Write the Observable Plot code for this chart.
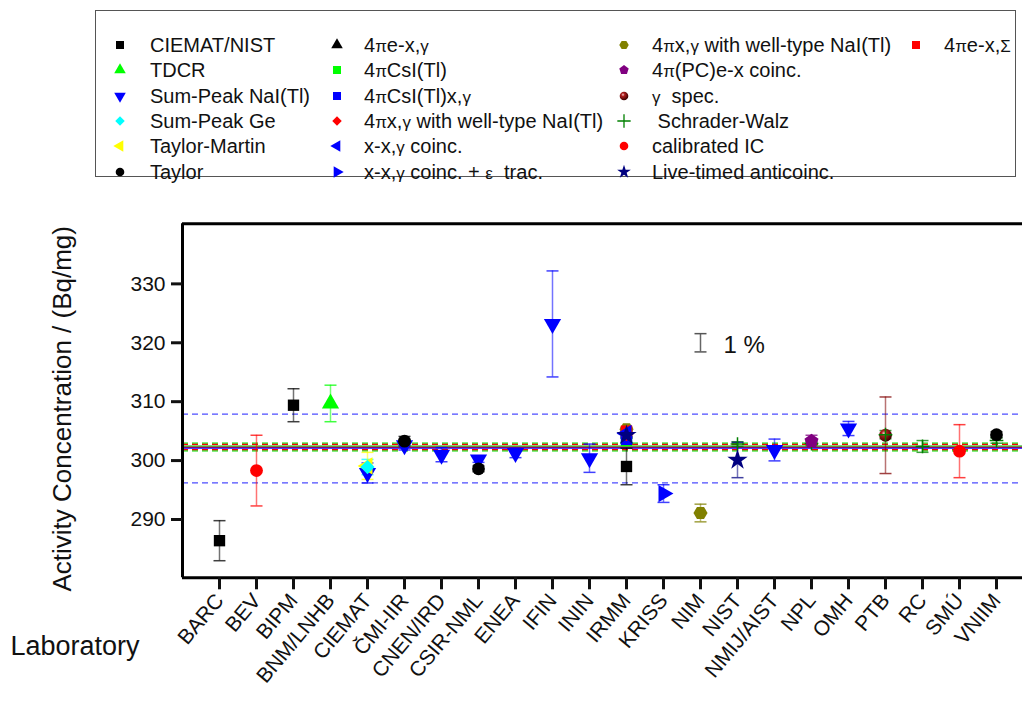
<!DOCTYPE html>
<html><head><meta charset="utf-8">
<script src="https://cdn.jsdelivr.net/npm/d3@7"></script>
<script src="https://cdn.jsdelivr.net/npm/@observablehq/plot@0.6"></script>
<style>
body{margin:0;background:#fff;font-family:"Liberation Sans",Arial,sans-serif;}
#wrap{width:1022px;height:702px;overflow:hidden;position:relative;}
#legend{position:relative;width:1022px;height:190px;}
#box{position:absolute;left:95px;top:10px;width:921px;height:167px;border:1.5px solid #555;box-sizing:border-box;}
.item{position:absolute;font-size:20px;color:#111;white-space:pre;line-height:24px;}
.g{font-size:0.85em;}
.mk{position:absolute;overflow:visible;}
#chart svg{display:block;}
</style></head><body>
<div id="wrap"><div id="legend"><div id="box"></div></div><div id="chart"></div></div>
<script>
// ---------- data ----------
const labs = ["BARC","BEV","BIPM","BNM/LNHB","CIEMAT","ČMI-IIR","CNEN/IRD","CSIR-NML","ENEA","IFIN","ININ","IRMM","KRISS","NIM","NIST","NMIJ/AIST","NPL","OMH","PTB","RC","SMÚ","VNIIM"];

const methodKeys   = ["CN","TDCR","SPNaI","SPGe","TM","Tay","4peg","CsI","CsIxg","WellRed","xxg","xxgEps","WellOlive","PC","gspec","SW","IC","LTA","4pexS"];
const methodLabels = ["CIEMAT/NIST","TDCR","Sum-Peak NaI(Tl)","Sum-Peak Ge","Taylor-Martin","Taylor",
  "4πe-x,γ","4πCsI(Tl)","4πCsI(Tl)x,γ","4πx,γ with well-type NaI(Tl)","x-x,γ coinc.","x-x,γ coinc. + ε  trac.",
  "4πx,γ with well-type NaI(Tl)","4π(PC)e-x coinc.","γ  spec."," Schrader-Walz","calibrated IC","Live-timed anticoinc.",
  "4πe-x,Σ"];

const measLab    = ["BARC","BEV","BIPM","BNM/LNHB","CIEMAT","CIEMAT","CIEMAT","ČMI-IIR","ČMI-IIR","CNEN/IRD","CSIR-NML","CSIR-NML","ENEA","IFIN","ININ",
  "IRMM","IRMM","IRMM","IRMM","IRMM","IRMM","IRMM","IRMM","KRISS","NIM","NIST","NIST","NMIJ/AIST","NPL","NPL","OMH","PTB","PTB","RC","SMÚ","VNIIM","VNIIM"];
const measMethod = ["CN","IC","CN","TDCR","SPNaI","TM","SPGe","SPNaI","Tay","SPNaI","SPNaI","Tay","SPNaI","SPNaI","SPNaI",
  "CN","WellOlive","4pexS","CsI","CsIxg","WellRed","xxg","LTA","xxgEps","WellOlive","SW","LTA","SPNaI","SW","PC","SPNaI","gspec","SW","SW","IC","SW","Tay"];
const measValue  = [286.4,298.3,309.4,309.7,297.9,299.1,298.9,302.6,303.3,301.0,300.2,298.6,301.3,323.2,300.4,
  299.0,305.3,305.0,303.4,303.6,304.5,304.6,304.3,294.4,291.1,302.8,300.1,301.8,302.9,303.3,305.45,304.3,304.4,302.4,301.6,303.4,304.4];
const measUnc    = [3.4,6.0,2.8,3.1,1.7,2.3,1.3,0.8,0.8,1.2,0.5,0.5,0.8,9.0,2.4,
  3.1,0.4,0.5,0.4,0.5,0.5,0.6,0.5,1.5,1.5,0.4,3.0,1.85,0.3,1.0,1.2,6.5,0.7,1.0,4.5,0.45,0.5];

// reference lines (mean values and uncertainty bands)
const refValue = [307.9,296.2,302.95,301.65,302.75,301.85,302.45,302.25,302.1];
const refKind  = ["blueDash","blueDash","greenDash","greenDash","redDash","redDash","greenSolid","redSolid","blueSolid"];

// "1 %" scale bar
const scaleLab = ["NIM"], scaleValue = [320], scaleHalf = [1.55], scaleText = ["1 %"];

const yTicks = [290,300,310,320,330];
const yDomain = [280.1,340.2];

// ---------- styles ----------
const s3 = Math.sqrt(3);
function tri(dir){return {draw(c,size){const y=-Math.sqrt(size/(s3*3));
  let p; if(dir==="up")p=[[0,2*y],[-s3*y,-y],[s3*y,-y]];
  else if(dir==="down")p=[[0,-2*y],[s3*y,y],[-s3*y,y]];
  else if(dir==="left")p=[[2*y,0],[-y,-s3*y],[-y,s3*y]];
  else p=[[-2*y,0],[y,-s3*y],[y,s3*y]];
  c.moveTo(...p[0]);c.lineTo(...p[1]);c.lineTo(...p[2]);c.closePath();}};}
const pentagon={draw(c,size){const R=Math.sqrt(size/2.378);for(let k=0;k<5;k++){const a=-Math.PI/2+k*2*Math.PI/5;k?c.lineTo(R*Math.cos(a),R*Math.sin(a)):c.moveTo(R*Math.cos(a),R*Math.sin(a));}c.closePath();}};
const hexagon={draw(c,size){const R=Math.sqrt(size/2.598);for(let k=0;k<6;k++){const a=k*Math.PI/3;k?c.lineTo(R*Math.cos(a),R*Math.sin(a)):c.moveTo(R*Math.cos(a),R*Math.sin(a));}c.closePath();}};
const hline={draw(c,size){const w=Math.sqrt(size/Math.PI);c.moveTo(-w,0);c.lineTo(w,0);}};

const style = {
  CN:{sym:d3.symbolSquare,color:"#000"}, TDCR:{sym:tri("up"),color:"#00ff00"}, SPNaI:{sym:tri("down"),color:"#0000ff"},
  SPGe:{sym:d3.symbolDiamond2,color:"#00ffff"}, TM:{sym:tri("left"),color:"#ffff00"}, Tay:{sym:d3.symbolCircle,color:"#000"},
  "4peg":{sym:tri("up"),color:"#000"}, CsI:{sym:d3.symbolSquare,color:"#00ff00"}, CsIxg:{sym:d3.symbolSquare,color:"#0000ff"},
  WellRed:{sym:d3.symbolDiamond2,color:"#ff0000"}, xxg:{sym:tri("left"),color:"#0000ff"}, xxgEps:{sym:tri("right"),color:"#0000ff"},
  WellOlive:{sym:hexagon,color:"#808000"}, PC:{sym:pentagon,color:"#800080"}, gspec:{sym:d3.symbolCircle,color:"#800000",fill:"url(#sph)"},
  SW:{sym:d3.symbolPlus,color:"#008000",stroke:true}, IC:{sym:d3.symbolCircle,color:"#ff0000"}, LTA:{sym:d3.symbolStar,color:"#000080"},
  "4pexS":{sym:d3.symbolSquare,color:"#ff0000"}
};
const refStyle = {
  blueDash:{stroke:"#4d4dff",dash:"6,4"}, greenDash:{stroke:"#00e000",dash:"6,4"}, redDash:{stroke:"#ff0000",dash:"6,4"},
  greenSolid:{stroke:"#00b000",dash:null}, redSolid:{stroke:"#ff0000",dash:null}, blueSolid:{stroke:"#0000ff",dash:null}
};
const legendCols = [[120,150],[337,364],[624,652],[916,944]];
const legendRows = [45,70.3,95.7,121,146.3,171.6];
const legendPos = [[0,0],[0,1],[0,2],[0,3],[0,4],[0,5],[1,0],[1,1],[1,2],[1,3],[1,4],[1,5],[2,0],[2,1],[2,2],[2,3],[2,4],[2,5],[3,0]];

// ---------- build ----------
const meas = measLab.map((lab,i)=>({x:labs.indexOf(lab)+1, m:measMethod[i], v:measValue[i], u:measUnc[i]}));
const scale = scaleLab.map((lab,i)=>({x:labs.indexOf(lab)+1, v:scaleValue[i], u:scaleHalf[i], t:scaleText[i]}));

const marks = [];
refValue.forEach((v,i)=>{const st=refStyle[refKind[i]];
  marks.push(Plot.ruleY([v],{stroke:st.stroke,strokeWidth:1.3,strokeDasharray:st.dash||undefined}));});

// error bars
methodKeys.forEach(k=>{
  const d = meas.filter(e=>e.m===k); if(!d.length) return;
  const c = style[k].color;
  marks.push(Plot.ruleX(d,{x:"x",y1:e=>e.v-e.u,y2:e=>e.v+e.u,stroke:c,strokeOpacity:0.55,strokeWidth:1.5}));
  marks.push(Plot.dot(d,{x:"x",y:e=>e.v-e.u,symbol:hline,r:6,stroke:c,strokeOpacity:0.75,strokeWidth:1.5,fill:"none"}));
  marks.push(Plot.dot(d,{x:"x",y:e=>e.v+e.u,symbol:hline,r:6,stroke:c,strokeOpacity:0.75,strokeWidth:1.5,fill:"none"}));
});
// markers in data order
meas.forEach((e,i)=>{
  const st = style[e.m];
  if(st.stroke) marks.push(Plot.dot([e],{x:"x",y:"v",symbol:st.sym,r:4.5,stroke:st.color,strokeWidth:1.5,fill:"none"}));
  else marks.push(Plot.dot([e],{x:"x",y:"v",symbol:st.sym,r:6.4,fill:st.fill||st.color,stroke:"none"}));
});
// scale bar
marks.push(Plot.ruleX(scale,{x:"x",y1:e=>e.v-e.u,y2:e=>e.v+e.u,stroke:"#666",strokeWidth:1.5}));
marks.push(Plot.dot(scale,{x:"x",y:e=>e.v-e.u,symbol:hline,r:6,stroke:"#555",strokeWidth:1.5,fill:"none"}));
marks.push(Plot.dot(scale,{x:"x",y:e=>e.v+e.u,symbol:hline,r:6,stroke:"#555",strokeWidth:1.5,fill:"none"}));
marks.push(Plot.text(scale,{x:"x",y:"v",text:"t",textAnchor:"start",dx:23,dy:3,fontSize:24,fill:"#111"}));

// frame & axes
marks.push(Plot.ruleY(yDomain,{strokeWidth:3,stroke:"#000"}));
marks.push(Plot.ruleX([0],{strokeWidth:3,stroke:"#000"}));
marks.push(Plot.axisY({ticks:yTicks,tickSize:11,tickPadding:6,strokeWidth:3,fontSize:21,label:null,fill:"#111"}));
marks.push(Plot.axisX({ticks:labs.map((_,i)=>i+1),tickFormat:i=>labs[i-1],tickSize:12,strokeWidth:3,tickRotate:-50,fontSize:21,tickPadding:7,label:null,fill:"#111"}));
marks.push(Plot.text(["Activity Concentration / (Bq/mg)"],{text:d=>d,frameAnchor:"left",textAnchor:"middle",lineAnchor:"middle",rotate:-90,dx:-120,dy:8,fontSize:26,fill:"#111"}));
marks.push(Plot.text(["Laboratory"],{text:d=>d,frameAnchor:"bottom-left",textAnchor:"start",lineAnchor:"middle",dx:-172,dy:69,fontSize:27,fill:"#111"}));

const svg = Plot.plot({
  width:1022,height:512,marginLeft:182,marginRight:0,marginTop:33.3,marginBottom:124.7,
  x:{type:"linear",domain:[0,(1022-182)/37]},
  y:{domain:yDomain},
  style:{fontFamily:"'Liberation Sans',Arial,sans-serif",background:"#fff",color:"#111"},
  marks
});
d3.select(svg).insert("defs",":first-child").html('<radialGradient id="sph" cx="38%" cy="35%" r="65%"><stop offset="0" stop-color="#f4d0d0"/><stop offset="0.3" stop-color="#b02020"/><stop offset="1" stop-color="#3a0000"/></radialGradient>');
document.getElementById("chart").appendChild(svg);

// ---------- legend ----------
const leg = document.getElementById("legend");
const greek = s => s.replace(/([πγεΣ])/g,'<span class="g">$1</span>');
methodKeys.forEach((k,i)=>{
  const [col,row] = legendPos[i];
  const [mx,tx] = legendCols[col]; const y = legendRows[row];
  const st = style[k];
  const isSq = st.sym===d3.symbolSquare;
  const path = d3.symbol(st.sym, st.stroke?60:(isSq?64:58))();
  const fill = st.stroke?"none":(k==="gspec"?"url(#sphL)":st.color);
  const defs = k==="gspec"?'<defs><radialGradient id="sphL" cx="38%" cy="35%" r="65%"><stop offset="0" stop-color="#f4d0d0"/><stop offset="0.3" stop-color="#b02020"/><stop offset="1" stop-color="#3a0000"/></radialGradient></defs>':'';
  const m = document.createElement("div");
  m.innerHTML = `<svg class="mk" width="20" height="20" viewBox="-10 -10 20 20" style="left:${mx-10}px;top:${y-10}px">${defs}<path d="${path}" fill="${fill}" stroke="${st.stroke?st.color:'none'}" stroke-width="1.3"/></svg>`;
  leg.appendChild(m.firstChild);
  const t = document.createElement("div");
  t.className="item"; t.style.left=tx+"px"; t.style.top=(y-12)+"px";
  t.innerHTML = greek(methodLabels[i]);
  leg.appendChild(t);
});
</script>
</body></html>
